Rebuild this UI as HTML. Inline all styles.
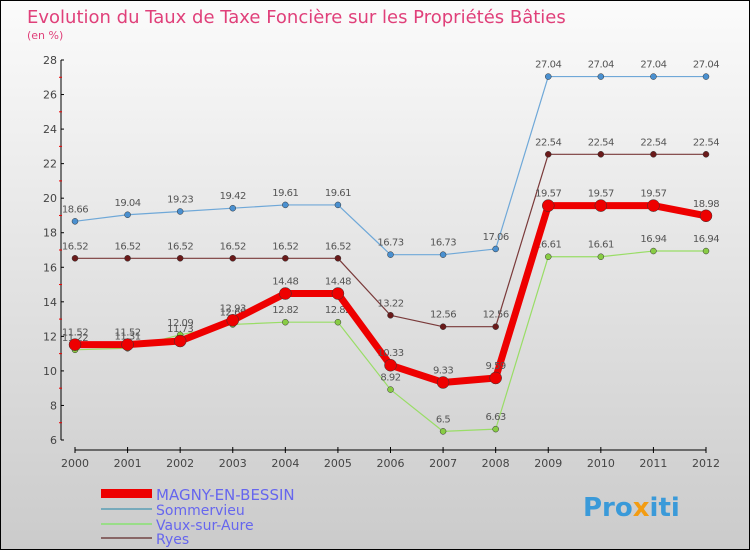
<!DOCTYPE html>
<html><head><meta charset="utf-8"><style>
body{margin:0}
#c{width:748px;height:548px;border:1px solid #000;background:linear-gradient(#fbfbfb,#cbcbcb);position:relative;font-family:"DejaVu Sans","Liberation Sans",sans-serif;overflow:hidden}
</style></head><body>
<div id="c">
<svg id="s" width="748" height="548" xmlns="http://www.w3.org/2000/svg" font-family="DejaVu Sans, Liberation Sans, sans-serif">
<text x="26" y="22" font-size="18" fill="#e0407a">Evolution du Taux de Taxe Foncière sur les Propriétés Bâties</text>
<text x="26" y="38" font-size="11" fill="#e0407a">(en %)</text>
<g id="axes"></g><g id="series"></g>
<g>
<rect x="100" y="488" width="51" height="9" fill="#e00"/>
<text x="155" y="499" font-size="15" fill="#6666ee">MAGNY-EN-BESSIN</text>
<rect x="100" y="507" width="51" height="2" fill="#7ab"/>
<text x="155" y="514" font-size="14" fill="#6666ee">Sommervieu</text>
<rect x="100" y="522" width="51" height="2" fill="#9d8"/>
<text x="155" y="529" font-size="14" fill="#6666ee">Vaux-sur-Aure</text>
<rect x="100" y="536" width="51" height="2" fill="#866"/>
<text x="155" y="543" font-size="14" fill="#6666ee">Ryes</text>
</g>
<text x="582" y="515" font-size="26" font-weight="bold" fill="#3a9ad9">Pro<tspan fill="#f39c12">x</tspan>iti</text>
</svg>
</div>
<script>
const years=[2000,2001,2002,2003,2004,2005,2006,2007,2008,2009,2010,2011,2012];
const magny=[11.52,11.52,11.73,12.93,14.48,14.48,10.33,9.33,9.59,19.57,19.57,19.57,18.98];
const sommervieu=[18.66,19.04,19.23,19.42,19.61,19.61,16.73,16.73,17.06,27.04,27.04,27.04,27.04];
const vaux=[11.22,11.31,12.09,12.69,12.82,12.82,8.92,6.5,6.63,16.61,16.61,16.94,16.94];
const ryes=[16.52,16.52,16.52,16.52,16.52,16.52,13.22,12.56,12.56,22.54,22.54,22.54,22.54];
const yTicks=[6,8,10,12,14,16,18,20,22,24,26,28];
const NS="http://www.w3.org/2000/svg";
const X=i=>74+i*(705-74)/(years.length-1);
const Y=v=>439-(v-6)*(380/22);
function mk(p,t,a){const e=document.createElementNS(NS,t);for(const k in a)e.setAttribute(k,a[k]);p.appendChild(e);return e;}
const ax=document.getElementById('axes');
let e=mk(ax,'line',{x1:60,y1:Y(28),x2:60,y2:Y(6),stroke:'#000'});


e=mk(ax,'line',{x1:74,y1:449,x2:705,y2:449,stroke:'#000'});


yTicks.forEach(v=>{
  mk(ax,'line',{x1:60,y1:Y(v),x2:63,y2:Y(v),stroke:'#000'});
  if(v<28)mk(ax,'line',{x1:58,y1:Y(v+1),x2:61,y2:Y(v+1),stroke:'#e00'});
  const t=mk(ax,'text',{x:56,y:Y(v)+4,'font-size':11,fill:'#444','text-anchor':'end'});t.textContent=v;
  
  
});
years.forEach((y,i)=>{
  mk(ax,'line',{x1:X(i),y1:446,x2:X(i),y2:452,stroke:'#000'});
  const t=mk(ax,'text',{x:X(i),y:466,'font-size':11,fill:'#444','text-anchor':'middle'});t.textContent=y;
  
  
});
const sg=document.getElementById('series');
function draw(vals,color,dot,w,r,name){
  const g=mk(sg,'g',{});
  
  
  mk(g,'polyline',{points:vals.map((v,i)=>X(i)+','+Y(v)).join(' '),fill:'none',stroke:color,'stroke-width':w,'stroke-linejoin':'round'});
  vals.forEach((v,i)=>{
    const c=mk(g,'circle',{cx:X(i),cy:Y(v),r:r,fill:dot,stroke:'#333','stroke-width':0.5});
    
    
    const t=mk(g,'text',{x:X(i),y:Y(v)-9,'font-size':10,fill:'#555','text-anchor':'middle','letter-spacing':'-0.5'});
    t.textContent=v;
    
    
  });
}
draw(sommervieu,'#6fa8d8','#4a90d0',1.2,3,'series-sommervieu');
draw(ryes,'#7a3a3a','#6a1a1a',1.2,3,'series-ryes');
draw(vaux,'#99dd66','#88cc44',1.2,3,'series-vaux');
draw(magny,'#ee0000','#ee0000',7,6,'series-magny');
</script>
</body></html>
